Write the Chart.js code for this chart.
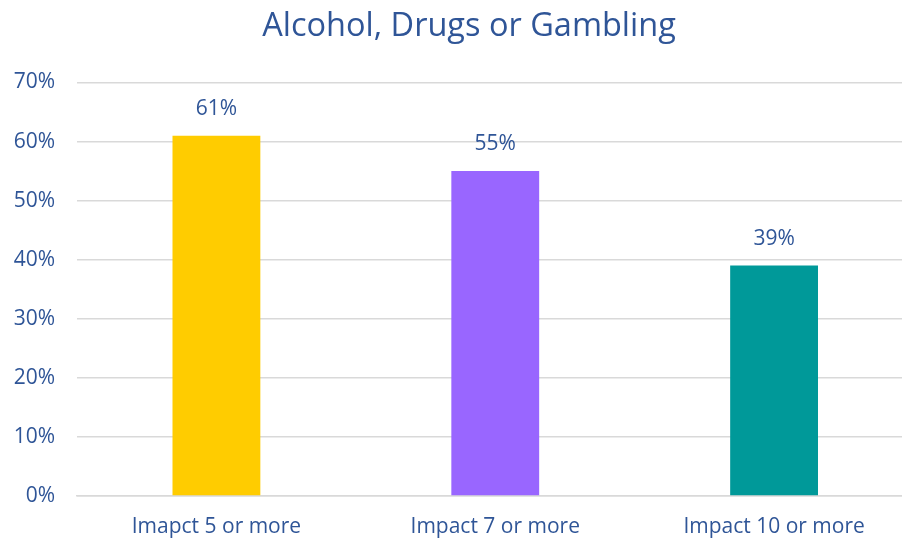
<!DOCTYPE html>
<html>
<head>
<meta charset="utf-8">
<script src="https://cdn.jsdelivr.net/npm/chart.js@4/dist/chart.umd.min.js"></script>
<style>
    html, body { margin: 0; padding: 0; background: #fff; overflow: hidden; }
    #wrap { width: 938px; height: 541px; }
</style>
</head>
<body>
<div id="wrap"><canvas id="impactChart" width="938" height="541"></canvas></div>
<script>
const categories = ["Imapct 5 or more", "Impact 7 or more", "Impact 10 or more"];
const values = [61, 55, 39];
const barColors = ["#FFCC00", "#9966FF", "#009999"];
const yTicks = [0, 10, 20, 30, 40, 50, 60, 70];

const textColor = "#2F5597";
const fontFamily = "'Open Sans', sans-serif";

// percent labels above each bar
const valueLabels = {
    id: "valueLabels",
    afterDatasetsDraw: (chart) => {
        const ctx = chart.ctx;
        ctx.save();
        ctx.font = "21px " + fontFamily;
        ctx.fillStyle = textColor;
        ctx.textAlign = "center";
        ctx.textBaseline = "middle";
        chart.getDatasetMeta(0).data.forEach((bar, i) => {
            ctx.fillText(values[i] + "%", bar.x, bar.y - 27);
        });
        ctx.restore();
    },
};

const ctx = document.getElementById("impactChart").getContext("2d");
new Chart(ctx, {
    type: "bar",
    data: {
        labels: categories,
        datasets: [
            {
                data: values,
                backgroundColor: barColors,
                categoryPercentage: 1,
                barPercentage: 0.315,
            },
        ],
    },
    options: {
        responsive: false,
        animation: false,
        scales: {
            x: {
                grid: { display: false, drawTicks: false },
                border: { color: "#D9D9D9", width: 1.5 },
                ticks: {
                    color: textColor,
                    padding: 18,
                    font: { family: fontFamily, size: 21 },
                },
                afterFit: (scale) => {
                    scale.height = 45;
                },
            },
            y: {
                min: 0,
                max: yTicks[yTicks.length - 1],
                afterBuildTicks: (scale) => {
                    scale.ticks = yTicks.map((v) => ({ value: v }));
                },
                border: { display: false },
                grid: {
                    color: "#D9D9D9",
                    lineWidth: 1.5,
                    drawTicks: false,
                },
                ticks: {
                    color: textColor,
                    padding: 22,
                    font: { family: fontFamily, size: 21 },
                    callback: (v) => v + "%",
                },
                afterFit: (scale) => {
                    scale.width = 77;
                },
            },
            // empty strip on the right so the title stays centred on the canvas
            yRight: {
                position: "right",
                display: true,
                grid: { display: false, drawTicks: false },
                border: { display: false },
                ticks: { display: false },
                afterFit: (scale) => {
                    scale.width = 24.5;
                },
            },
        },
        plugins: {
            legend: { display: false },
            tooltip: { enabled: false },
            title: {
                display: true,
                text: "Alcohol, Drugs or Gambling",
                color: textColor,
                font: { family: fontFamily, size: 32.5, weight: "normal" },
                padding: { top: 7, bottom: 36.5 },
            },
        },
    },
    plugins: [valueLabels],
});
</script>
</body>
</html>
